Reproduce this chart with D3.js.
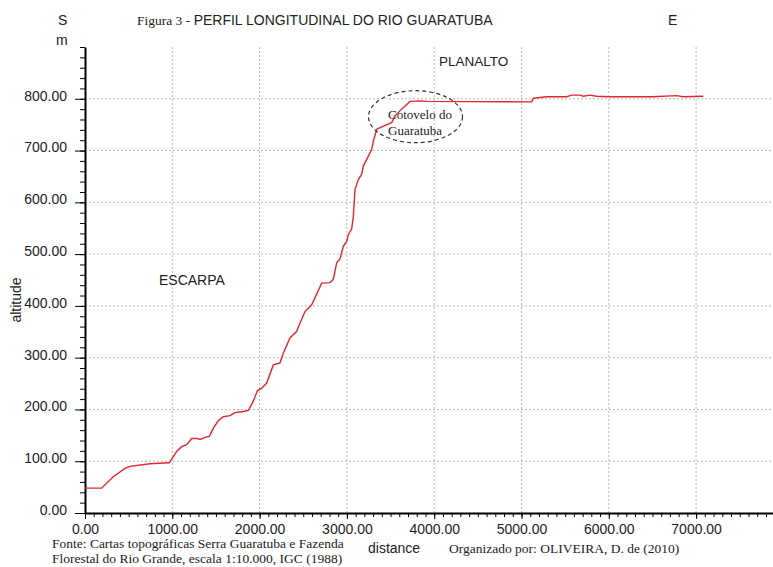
<!DOCTYPE html>
<html>
<head>
<meta charset="utf-8">
<script src="https://cdn.jsdelivr.net/npm/d3@7"></script>
<style>
  body { margin: 0; background: #fff; }
  text { font-family: "Liberation Sans", Arial, sans-serif; fill: #222; }
  .serif { font-family: "Liberation Serif", "Times New Roman", serif; }
</style>
</head>
<body>
<div id="chart"></div>
<script>
// profile of the river: distance (m) and altitude (m)
const distance = [0, 190, 324, 458, 515, 745, 955, 966, 1050, 1107, 1165, 1222, 1279, 1317, 1375, 1424,
  1470, 1527, 1584, 1661, 1718, 1813, 1871, 1928, 1974, 2024, 2081, 2157, 2234, 2272, 2348, 2425,
  2463, 2520, 2597, 2711, 2806, 2844, 2883, 2921, 2959, 2998, 3017, 3055, 3074, 3093, 3131, 3169,
  3188, 3227, 3284, 3303, 3341, 3418, 3513, 3551, 3627, 3723, 3837, 3914, 5117, 5135, 5288, 5517,
  5575, 5670, 5708, 5785, 5861, 6014, 6500, 6777, 6850, 7082];
const altitude = [48, 48, 70, 86, 90, 95, 97, 97, 119, 128, 132, 144, 144, 142, 146, 148,
  164, 178, 186, 188, 194, 196, 198, 216, 236, 241, 251, 286, 290, 309, 338, 351,
  367, 389, 402, 444, 445, 451, 483, 491, 515, 525, 538, 549, 573, 625, 644, 654,
  670, 683, 702, 718, 741, 747, 754, 767, 780, 795, 796, 795, 794, 801, 804, 804,
  807, 807, 805, 807, 805, 804, 804, 806, 804, 805];

const xTicks = [0, 1000, 2000, 3000, 4000, 5000, 6000, 7000];
const yTicks = [0, 100, 200, 300, 400, 500, 600, 700, 800];

const width = 773, height = 567,
    margin = ({top: 47, right: 0, bottom: 54, left: 85});

const svg = d3.select("#chart").append("svg")
    .attr("width", width).attr("height", height);

const x = d3.scaleLinear()
    .domain([0, 7900])
    .range([margin.left, margin.left + 7.9 * 87.3]);

const y = d3.scaleLinear()
    .domain([0, 900])
    .range([height - margin.bottom, margin.top]);

// dotted grid
svg.append("g").selectAll("line")
    .data(yTicks.slice(1))
    .join("line")
    .attr("x1", margin.left).attr("x2", width)
    .attr("y1", d => y(d)).attr("y2", d => y(d))
    .attr("stroke", "#b8b8b8").attr("stroke-dasharray", "2,2");
svg.append("g").selectAll("line")
    .data(xTicks.slice(1))
    .join("line")
    .attr("x1", d => x(d)).attr("x2", d => x(d))
    .attr("y1", y(900)).attr("y2", y(0))
    .attr("stroke", "#b8b8b8").attr("stroke-dasharray", "2,2");

// minor ticks
const xMinor = g => g
    .attr("transform", `translate(0, ${y(0)})`)
    .call(d3.axisBottom(x).tickValues(d3.range(0, 7900, 100)).tickSize(4).tickFormat(""))
    .call(g => g.select(".domain").remove());
const yMinor = g => g
    .attr("transform", `translate(${margin.left}, 0)`)
    .call(d3.axisLeft(y).tickValues(d3.range(0, 901, 20)).tickSize(5).tickFormat(""))
    .call(g => g.select(".domain").remove());
svg.append("g").call(xMinor);
svg.append("g").call(yMinor);

// major axes
const xAxis = g => g
    .attr("transform", `translate(0, ${y(0)})`)
    .call(d3.axisBottom(x).tickValues(xTicks).tickSize(6).tickSizeOuter(0).tickFormat(d3.format(".2f")))
    .call(g => g.select(".domain").attr("stroke-width", 2))
    .call(g => g.selectAll(".tick text").attr("font-size", 14).attr("fill", "#222")
        .attr("font-family", "Liberation Sans, Arial, sans-serif").attr("y", 8).attr("dy", "0.9em"));
const yAxis = g => g
    .attr("transform", `translate(${margin.left}, 0)`)
    .call(d3.axisLeft(y).tickValues(yTicks).tickSize(10).tickSizeOuter(0).tickFormat(d3.format(".2f")))
    .call(g => g.select(".domain").attr("stroke-width", 2))
    .call(g => g.selectAll(".tick text").attr("font-size", 14).attr("fill", "#222")
        .attr("font-family", "Liberation Sans, Arial, sans-serif").attr("x", -18).attr("dy", "0.1em"));
svg.append("g").call(xAxis);
svg.append("g").call(yAxis);

// the profile line
const profile = distance.map((d, i) => ({d: d, a: altitude[i]}));
svg.append("path")
    .datum(profile)
    .attr("fill", "none")
    .attr("stroke", "#e3262e")
    .attr("stroke-width", 1.4)
    .attr("d", d3.line().x(p => x(p.d)).y(p => y(p.a)));

// titles and labels
const title = svg.append("text").attr("x", 137).attr("y", 25).attr("font-size", 14);
title.append("tspan").attr("class", "serif").attr("font-size", 13.5).text("Figura 3 - ");
title.append("tspan").text("PERFIL LONGITUDINAL DO RIO GUARATUBA");

svg.append("text").attr("x", 58).attr("y", 25).attr("font-size", 14).text("S");
svg.append("text").attr("x", 56).attr("y", 45).attr("font-size", 14).text("m");
svg.append("text").attr("x", 668).attr("y", 25).attr("font-size", 14).text("E");

svg.append("text").attr("x", 439).attr("y", 66).attr("font-size", 13.5).text("PLANALTO");
svg.append("text").attr("x", 159).attr("y", 285).attr("font-size", 14).text("ESCARPA");

svg.append("text")
    .attr("transform", "translate(21, 300) rotate(-90)")
    .attr("text-anchor", "middle").attr("font-size", 14).text("altitude");
svg.append("text").attr("x", 368).attr("y", 553).attr("font-size", 14).text("distance");

// elbow annotation
svg.append("ellipse")
    .attr("cx", 415.5).attr("cy", 116.7).attr("rx", 47).attr("ry", 26)
    .attr("fill", "none").attr("stroke", "#333").attr("stroke-width", 1.2)
    .attr("stroke-dasharray", "4,3");
svg.append("text").attr("class", "serif").attr("x", 388).attr("y", 118.5).attr("font-size", 13).text("Cotovelo do");
svg.append("text").attr("class", "serif").attr("x", 388).attr("y", 135).attr("font-size", 13).text("Guaratuba");

// footer
svg.append("text").attr("class", "serif").attr("x", 52).attr("y", 548).attr("font-size", 13.5)
    .text("Fonte: Cartas topográficas Serra Guaratuba e Fazenda");
svg.append("text").attr("class", "serif").attr("x", 52).attr("y", 563).attr("font-size", 13.5)
    .text("Florestal do Rio Grande, escala 1:10.000, IGC (1988)");
svg.append("text").attr("class", "serif").attr("x", 449).attr("y", 553).attr("font-size", 13.5)
    .text("Organizado por: OLIVEIRA, D. de (2010)");
</script>
</body>
</html>
